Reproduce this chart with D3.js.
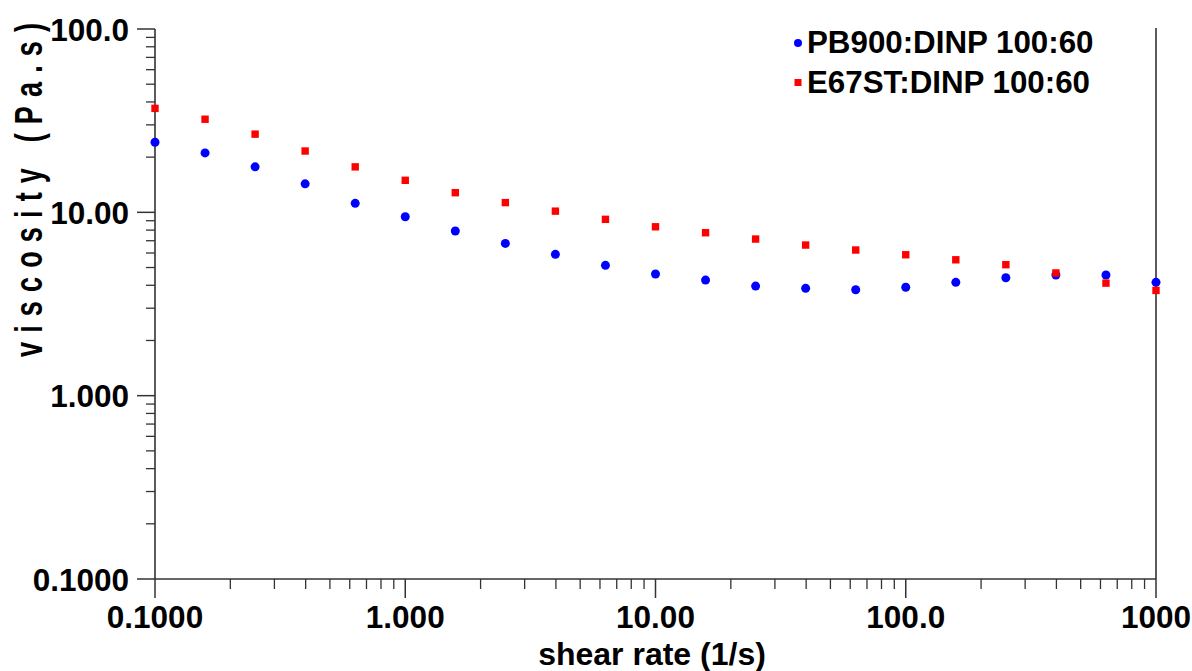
<!DOCTYPE html>
<html><head><meta charset="utf-8">
<script src="https://cdn.jsdelivr.net/npm/d3@7"></script>
<style>body{margin:0;background:#fff}svg{display:block;font-family:"Liberation Sans",Arial,sans-serif;font-weight:bold}</style>
</head><body><svg id="c" width="1192" height="671"></svg>
<script>
const shearRate = [0.1,0.1585,0.2512,0.3981,0.631,1,1.585,2.512,3.981,6.31,10,15.85,25.12,39.81,63.1,100,158.5,251.2,398.1,631,1000];
const pb900 = [24.1,21.1,17.7,14.3,11.2,9.46,7.91,6.77,5.90,5.14,4.61,4.27,3.96,3.85,3.78,3.90,4.15,4.40,4.55,4.55,4.15];
const e67st = [36.9,32.2,26.7,21.6,17.7,14.95,12.8,11.3,10.15,9.16,8.34,7.74,7.15,6.63,6.23,5.87,5.51,5.18,4.67,4.11,3.75];
const xTicks = [0.1,1,10,100,1000];
const xTickLabels = ["0.1000","1.000","10.00","100.0","1000"];
const yTicks = [0.1,1,10,100];
const yTickLabels = ["0.1000","1.000","10.00","100.0"];
const seriesNames = ["PB900:DINP 100:60","E67ST:DINP 100:60"];

const svg = d3.select("#c");
const x = d3.scaleLog().domain([0.1,1000]).range([155,1156]);
const y = d3.scaleLog().domain([0.1,100]).range([579,29]);

const minorX = [], minorY = [];
for (let d=0.1; d<1000; d*=10) for (let k=2;k<=9;k++) minorX.push(d*k);
for (let d=0.1; d<100; d*=10) for (let k=2;k<=9;k++) minorY.push(d*k);

const g = svg.append("g");
g.selectAll(".xmin").data(minorX).join("line")
  .attr("x1",d=>x(d)).attr("x2",d=>x(d)).attr("y1",y(0.1)).attr("y2",y(0.1)+10)
  .attr("stroke","#333").attr("stroke-width",1.3);
g.selectAll(".xmaj").data(xTicks).join("line")
  .attr("x1",d=>x(d)).attr("x2",d=>x(d)).attr("y1",y(0.1)).attr("y2",y(0.1)+19)
  .attr("stroke","#333").attr("stroke-width",1.5);
g.selectAll(".xl").data(xTicks).join("text")
  .attr("x",d=>x(d)).attr("y",628).attr("text-anchor","middle")
  .attr("font-size",31.5).attr("fill","#000").text((d,i)=>xTickLabels[i]);
g.selectAll(".ymin").data(minorY).join("line")
  .attr("x1",x(0.1)-9).attr("x2",x(0.1)).attr("y1",d=>y(d)).attr("y2",d=>y(d))
  .attr("stroke","#333").attr("stroke-width",1.3);
g.selectAll(".ymaj").data(yTicks).join("line")
  .attr("x1",x(0.1)-18).attr("x2",x(0.1)).attr("y1",d=>y(d)).attr("y2",d=>y(d))
  .attr("stroke","#333").attr("stroke-width",1.5);
g.selectAll(".yl").data(yTicks).join("text")
  .attr("x",129).attr("y",d=>y(d)+11.5).attr("text-anchor","end")
  .attr("font-size",31.5).attr("fill","#000").text((d,i)=>yTickLabels[i]);
g.append("line").attr("x1",x(0.1)).attr("x2",x(1000)).attr("y1",y(0.1)).attr("y2",y(0.1)).attr("stroke","#333").attr("stroke-width",1.6);
g.append("line").attr("x1",x(0.1)).attr("x2",x(0.1)).attr("y1",y(100)).attr("y2",y(0.1)).attr("stroke","#333").attr("stroke-width",1.6);
g.append("line").attr("x1",x(1000)).attr("x2",x(1000)).attr("y1",y(100)-1).attr("y2",y(0.1)).attr("stroke","#333").attr("stroke-width",1.6);

svg.append("text").attr("x",652).attr("y",665).attr("text-anchor","middle").attr("font-size",32).attr("fill","#000").text("shear rate (1/s)");
svg.append("text").attr("transform","translate(42,357) rotate(-90) scale(1,1.45)").attr("font-size",27).attr("fill","#000")
  .attr("textLength",334).attr("lengthAdjust","spacing").text("viscosity (Pa.s)");

svg.append("g").selectAll("circle").data(shearRate).join("circle")
  .attr("cx",d=>x(d)).attr("cy",(d,i)=>y(pb900[i])).attr("r",4.5).attr("fill","#0000ff");
svg.append("g").selectAll("rect").data(shearRate).join("rect")
  .attr("x",d=>x(d)-3.7).attr("y",(d,i)=>y(e67st[i])-3.7).attr("width",7.4).attr("height",7.4).attr("fill","#ff0000");

const lg = svg.append("g");
lg.append("circle").attr("cx",798).attr("cy",43).attr("r",4).attr("fill","#0000ff");
lg.append("rect").attr("x",794.5).attr("y",79).attr("width",7).attr("height",7).attr("fill","#ff0000");
lg.selectAll("text").data(seriesNames).join("text")
  .attr("x",807).attr("y",(d,i)=>53+i*39.5).attr("font-size",31.3).attr("fill","#000").text(d=>d);
</script></body></html>
